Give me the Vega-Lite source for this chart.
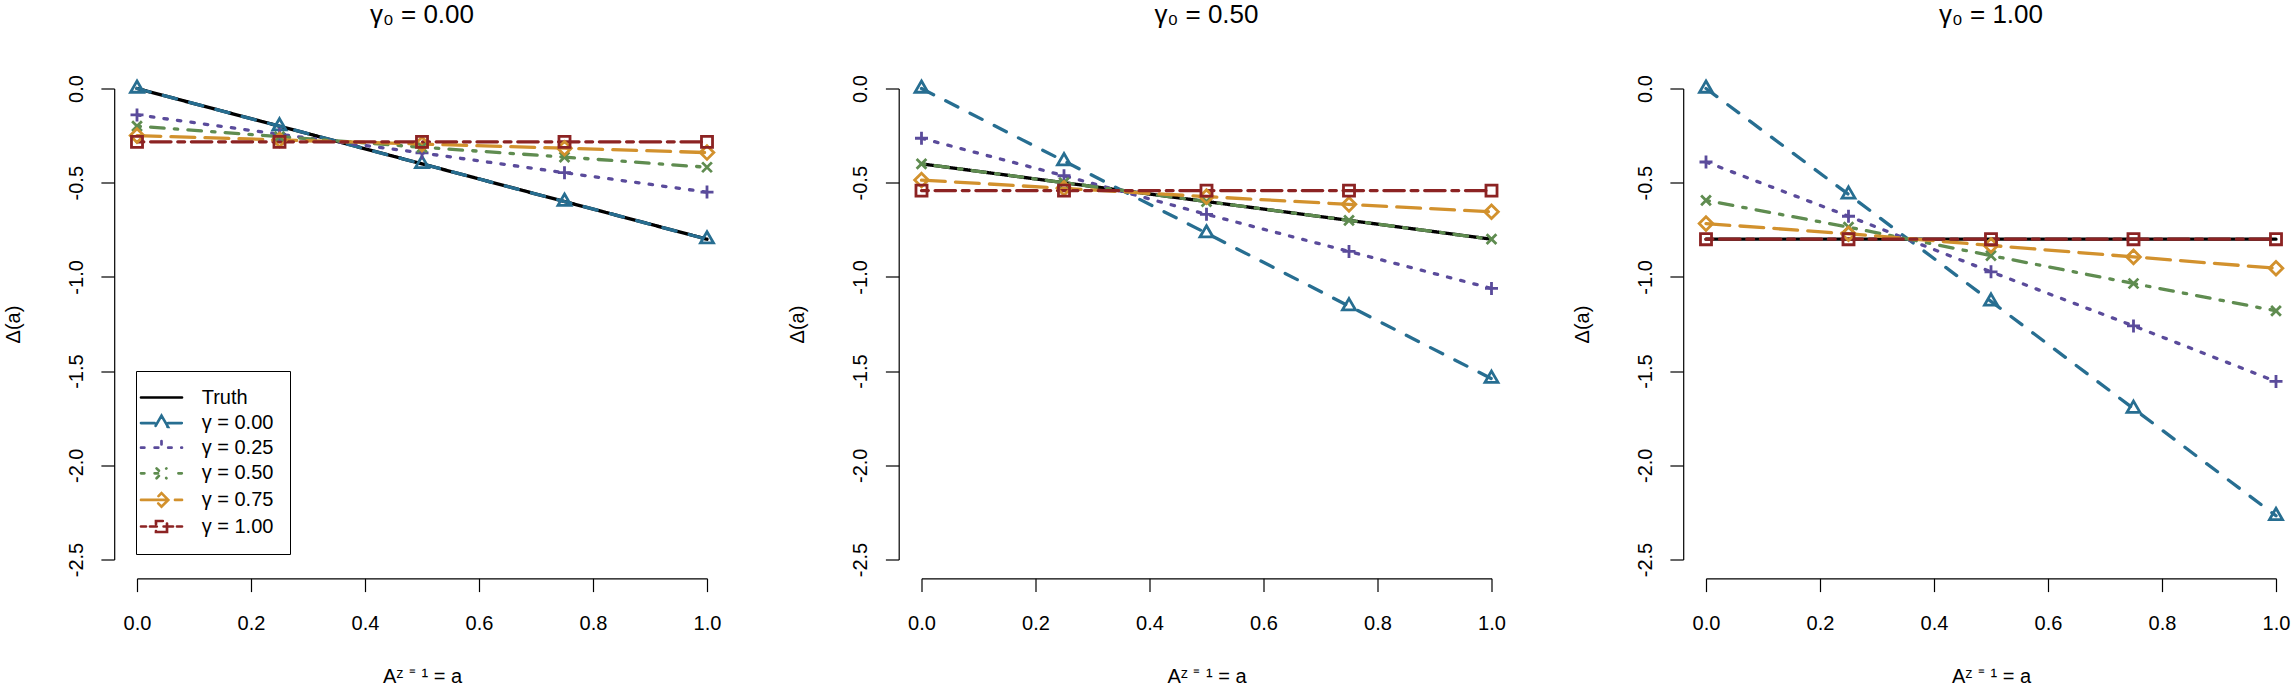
{
  "$schema": "https://vega.github.io/schema/vega-lite/v6.json",
  "autosize": "none",
  "padding": {"left": 137, "top": 88.5, "right": 2156, "bottom": 596.5},
  "spacing": 214.5,
  "bounds": "flush",
  "data": {"values": [
    {"g": "0.00", "s": "Truth", "a": 0, "d": 0},
    {"g": "0.00", "s": "Truth", "a": 0.25, "d": -0.2},
    {"g": "0.00", "s": "Truth", "a": 0.5, "d": -0.4},
    {"g": "0.00", "s": "Truth", "a": 0.75, "d": -0.6},
    {"g": "0.00", "s": "Truth", "a": 1, "d": -0.8},
    {"g": "0.00", "s": "γ = 0.00", "a": 0, "d": 0},
    {"g": "0.00", "s": "γ = 0.00", "a": 0.25, "d": -0.2},
    {"g": "0.00", "s": "γ = 0.00", "a": 0.5, "d": -0.4},
    {"g": "0.00", "s": "γ = 0.00", "a": 0.75, "d": -0.6},
    {"g": "0.00", "s": "γ = 0.00", "a": 1, "d": -0.8},
    {"g": "0.00", "s": "γ = 0.25", "a": 0, "d": -0.14},
    {"g": "0.00", "s": "γ = 0.25", "a": 0.25, "d": -0.243},
    {"g": "0.00", "s": "γ = 0.25", "a": 0.5, "d": -0.342},
    {"g": "0.00", "s": "γ = 0.25", "a": 0.75, "d": -0.447},
    {"g": "0.00", "s": "γ = 0.25", "a": 1, "d": -0.55},
    {"g": "0.00", "s": "γ = 0.50", "a": 0, "d": -0.2},
    {"g": "0.00", "s": "γ = 0.50", "a": 0.25, "d": -0.255},
    {"g": "0.00", "s": "γ = 0.50", "a": 0.5, "d": -0.312},
    {"g": "0.00", "s": "γ = 0.50", "a": 0.75, "d": -0.364},
    {"g": "0.00", "s": "γ = 0.50", "a": 1, "d": -0.418},
    {"g": "0.00", "s": "γ = 0.75", "a": 0, "d": -0.25},
    {"g": "0.00", "s": "γ = 0.75", "a": 0.25, "d": -0.273},
    {"g": "0.00", "s": "γ = 0.75", "a": 0.5, "d": -0.295},
    {"g": "0.00", "s": "γ = 0.75", "a": 0.75, "d": -0.317},
    {"g": "0.00", "s": "γ = 0.75", "a": 1, "d": -0.34},
    {"g": "0.00", "s": "γ = 1.00", "a": 0, "d": -0.283},
    {"g": "0.00", "s": "γ = 1.00", "a": 0.25, "d": -0.283},
    {"g": "0.00", "s": "γ = 1.00", "a": 0.5, "d": -0.283},
    {"g": "0.00", "s": "γ = 1.00", "a": 0.75, "d": -0.283},
    {"g": "0.00", "s": "γ = 1.00", "a": 1, "d": -0.283},
    {"g": "0.50", "s": "Truth", "a": 0, "d": -0.4},
    {"g": "0.50", "s": "Truth", "a": 0.25, "d": -0.5},
    {"g": "0.50", "s": "Truth", "a": 0.5, "d": -0.6},
    {"g": "0.50", "s": "Truth", "a": 0.75, "d": -0.7},
    {"g": "0.50", "s": "Truth", "a": 1, "d": -0.8},
    {"g": "0.50", "s": "γ = 0.00", "a": 0, "d": 0},
    {"g": "0.50", "s": "γ = 0.00", "a": 0.25, "d": -0.385},
    {"g": "0.50", "s": "γ = 0.00", "a": 0.5, "d": -0.768},
    {"g": "0.50", "s": "γ = 0.00", "a": 0.75, "d": -1.155},
    {"g": "0.50", "s": "γ = 0.00", "a": 1, "d": -1.54},
    {"g": "0.50", "s": "γ = 0.25", "a": 0, "d": -0.264},
    {"g": "0.50", "s": "γ = 0.25", "a": 0.25, "d": -0.463},
    {"g": "0.50", "s": "γ = 0.25", "a": 0.5, "d": -0.668},
    {"g": "0.50", "s": "γ = 0.25", "a": 0.75, "d": -0.865},
    {"g": "0.50", "s": "γ = 0.25", "a": 1, "d": -1.061},
    {"g": "0.50", "s": "γ = 0.50", "a": 0, "d": -0.4},
    {"g": "0.50", "s": "γ = 0.50", "a": 0.25, "d": -0.5},
    {"g": "0.50", "s": "γ = 0.50", "a": 0.5, "d": -0.6},
    {"g": "0.50", "s": "γ = 0.50", "a": 0.75, "d": -0.7},
    {"g": "0.50", "s": "γ = 0.50", "a": 1, "d": -0.8},
    {"g": "0.50", "s": "γ = 0.75", "a": 0, "d": -0.486},
    {"g": "0.50", "s": "γ = 0.75", "a": 0.25, "d": -0.53},
    {"g": "0.50", "s": "γ = 0.75", "a": 0.5, "d": -0.574},
    {"g": "0.50", "s": "γ = 0.75", "a": 0.75, "d": -0.615},
    {"g": "0.50", "s": "γ = 0.75", "a": 1, "d": -0.654},
    {"g": "0.50", "s": "γ = 1.00", "a": 0, "d": -0.542},
    {"g": "0.50", "s": "γ = 1.00", "a": 0.25, "d": -0.542},
    {"g": "0.50", "s": "γ = 1.00", "a": 0.5, "d": -0.542},
    {"g": "0.50", "s": "γ = 1.00", "a": 0.75, "d": -0.542},
    {"g": "0.50", "s": "γ = 1.00", "a": 1, "d": -0.542},
    {"g": "1.00", "s": "Truth", "a": 0, "d": -0.8},
    {"g": "1.00", "s": "Truth", "a": 0.25, "d": -0.8},
    {"g": "1.00", "s": "Truth", "a": 0.5, "d": -0.8},
    {"g": "1.00", "s": "Truth", "a": 0.75, "d": -0.8},
    {"g": "1.00", "s": "Truth", "a": 1, "d": -0.8},
    {"g": "1.00", "s": "γ = 0.00", "a": 0, "d": 0},
    {"g": "1.00", "s": "γ = 0.00", "a": 0.25, "d": -0.562},
    {"g": "1.00", "s": "γ = 0.00", "a": 0.5, "d": -1.13},
    {"g": "1.00", "s": "γ = 0.00", "a": 0.75, "d": -1.699},
    {"g": "1.00", "s": "γ = 0.00", "a": 1, "d": -2.268},
    {"g": "1.00", "s": "γ = 0.25", "a": 0, "d": -0.39},
    {"g": "1.00", "s": "γ = 0.25", "a": 0.25, "d": -0.678},
    {"g": "1.00", "s": "γ = 0.25", "a": 0.5, "d": -0.973},
    {"g": "1.00", "s": "γ = 0.25", "a": 0.75, "d": -1.26},
    {"g": "1.00", "s": "γ = 0.25", "a": 1, "d": -1.555},
    {"g": "1.00", "s": "γ = 0.50", "a": 0, "d": -0.594},
    {"g": "1.00", "s": "γ = 0.50", "a": 0.25, "d": -0.736},
    {"g": "1.00", "s": "γ = 0.50", "a": 0.5, "d": -0.887},
    {"g": "1.00", "s": "γ = 0.50", "a": 0.75, "d": -1.035},
    {"g": "1.00", "s": "γ = 0.50", "a": 1, "d": -1.18},
    {"g": "1.00", "s": "γ = 0.75", "a": 0, "d": -0.717},
    {"g": "1.00", "s": "γ = 0.75", "a": 0.25, "d": -0.771},
    {"g": "1.00", "s": "γ = 0.75", "a": 0.5, "d": -0.833},
    {"g": "1.00", "s": "γ = 0.75", "a": 0.75, "d": -0.894},
    {"g": "1.00", "s": "γ = 0.75", "a": 1, "d": -0.954},
    {"g": "1.00", "s": "γ = 1.00", "a": 0, "d": -0.8},
    {"g": "1.00", "s": "γ = 1.00", "a": 0.25, "d": -0.8},
    {"g": "1.00", "s": "γ = 1.00", "a": 0.5, "d": -0.8},
    {"g": "1.00", "s": "γ = 1.00", "a": 0.75, "d": -0.8},
    {"g": "1.00", "s": "γ = 1.00", "a": 1, "d": -0.8}
  ]},
  "hconcat": [
    {
      "title": {"text": "γ₀ = 0.00"},
      "width": 570, "height": 471,
      "transform": [{"filter": "datum.g === '0.00'"}],
      "encoding": {
        "x": {"field": "a", "type": "quantitative", "scale": {"domain": [0, 1], "nice": false, "zero": false},
          "axis": {"values": [0, 0.2, 0.4, 0.6, 0.8, 1], "labelExpr": "format(datum.value, '.1f')", "offset": 18.8, "labelPadding": 21.7, "title": "Aᶻ ⁼ ¹ = a", "titleX": 285, "titleY": 104.4, "titleBaseline": "alphabetic", "titleAnchor": "middle"}},
        "y": {"field": "d", "type": "quantitative", "scale": {"domain": [-2.5, 0], "nice": false, "zero": false},
          "axis": {"values": [0, -0.5, -1, -1.5, -2, -2.5], "labelExpr": "replace(format(datum.value, '.1f'), '−', '-')", "offset": 22.8, "labelAngle": -90, "labelAlign": "center", "labelBaseline": "bottom", "labelPadding": 14.5, "title": "Δ(a)", "titleX": -101, "titleY": 235.5, "titleAngle": -90, "titleBaseline": "middle", "titleAlign": "center"}}
      },
      "layer": [
        {
          "mark": {"type": "line", "strokeWidth": 3.3, "strokeCap": "round", "strokeJoin": "round"},
          "encoding": {
            "color": {"field": "s", "type": "nominal",
              "scale": {"domain": ["Truth", "γ = 0.00", "γ = 0.25", "γ = 0.50", "γ = 0.75", "γ = 1.00"], "range": ["#000000", "#276e91", "#5a4b9b", "#5f8c50", "#d2912d", "#8c2323"]},
              "legend": {"title": null, "orient": "none", "legendX": -1, "legendY": 282.5, "padding": 16.5, "strokeColor": "#000000", "fillColor": "#ffffff", "symbolSize": 272.25, "symbolStrokeWidth": 2.7, "symbolOffset": -1, "labelOffset": 30.2, "rowPadding": 2.6, "labelFontSize": 20, "labelColor": "#000000", "labelLimit": 400,
                "encode": {"symbols": {"update": {
                  "shape": {"signal": "['M-2.485,0H2.485', 'M-2.485,0H-0.836M0.812,0H2.461M0,-0.91L0.788,0.455L-0.788,0.455Z', 'M-2.485,0H-2.073M-0.836,0H-0.424M0.812,0H1.224M2.4,0H2.485M-0.8,0H0.8M0,-0.8V0.8', 'M-2.485,0H-2.073M-0.836,0H0.812M2.048,0H2.461M-0.6,-0.6L0.6,0.6M-0.6,0.6L0.6,-0.6', 'M-2.485,0H2.485M0,-0.82L0.82,0L0,0.82L-0.82,0Z', 'M-2.485,0H-1.879M-1.394,0H1.394M1.879,0H2.485M-0.667,-0.667H0.667V0.667H-0.667Z'][datum.index]"},
                  "fill": {"value": "transparent"}, "strokeDash": {"value": []}, "strokeCap": {"value": "round"}, "opacity": {"value": 1}}}}}},
            "strokeDash": {"field": "s", "type": "nominal",
              "scale": {"domain": ["Truth", "γ = 0.00", "γ = 0.25", "γ = 0.50", "γ = 0.75", "γ = 1.00"], "range": [[1, 0], [13.6, 13.6], [3.4, 10.2], [3.4, 10.2, 13.6, 10.2], [23.8, 10.2], [6.8, 6.8, 20.4, 6.8]]},
              "legend": null}
          }
        },
        {
          "transform": [{"filter": "datum.s !== 'Truth'"}],
          "mark": {"type": "point", "filled": false, "strokeWidth": 2.8, "size": 169, "opacity": 1},
          "encoding": {
            "color": {"field": "s", "type": "nominal", "legend": null},
            "shape": {"field": "s", "type": "nominal",
              "scale": {"domain": ["γ = 0.00", "γ = 0.25", "γ = 0.50", "γ = 0.75", "γ = 1.00"], "range": ["M0,-1.155L1,0.577L-1,0.577Z", "M-1,0H1M0,-1V1", "M-0.75,-0.75L0.75,0.75M-0.75,0.75L0.75,-0.75", "M0,-1.05L1.05,0L0,1.05L-1.05,0Z", "M-0.85,-0.85H0.85V0.85H-0.85Z"]},
              "legend": null}
          }
        }
      ]
    },
    {
      "title": {"text": "γ₀ = 0.50"},
      "width": 570, "height": 471,
      "transform": [{"filter": "datum.g === '0.50'"}],
      "encoding": {
        "x": {"field": "a", "type": "quantitative", "scale": {"domain": [0, 1], "nice": false, "zero": false},
          "axis": {"values": [0, 0.2, 0.4, 0.6, 0.8, 1], "labelExpr": "format(datum.value, '.1f')", "offset": 18.8, "labelPadding": 21.7, "title": "Aᶻ ⁼ ¹ = a", "titleX": 285, "titleY": 104.4, "titleBaseline": "alphabetic", "titleAnchor": "middle"}},
        "y": {"field": "d", "type": "quantitative", "scale": {"domain": [-2.5, 0], "nice": false, "zero": false},
          "axis": {"values": [0, -0.5, -1, -1.5, -2, -2.5], "labelExpr": "replace(format(datum.value, '.1f'), '−', '-')", "offset": 22.8, "labelAngle": -90, "labelAlign": "center", "labelBaseline": "bottom", "labelPadding": 14.5, "title": "Δ(a)", "titleX": -101, "titleY": 235.5, "titleAngle": -90, "titleBaseline": "middle", "titleAlign": "center"}}
      },
      "layer": [
        {
          "mark": {"type": "line", "strokeWidth": 3.3, "strokeCap": "round", "strokeJoin": "round"},
          "encoding": {
            "color": {"field": "s", "type": "nominal",
              "scale": {"domain": ["Truth", "γ = 0.00", "γ = 0.25", "γ = 0.50", "γ = 0.75", "γ = 1.00"], "range": ["#000000", "#276e91", "#5a4b9b", "#5f8c50", "#d2912d", "#8c2323"]},
              "legend": {"title": null, "orient": "none", "legendX": -1, "legendY": 282.5, "padding": 16.5, "strokeColor": "#000000", "fillColor": "#ffffff", "symbolSize": 272.25, "symbolStrokeWidth": 2.7, "symbolOffset": -1, "labelOffset": 30.2, "rowPadding": 2.6, "labelFontSize": 20, "labelColor": "#000000", "labelLimit": 400,
                "encode": {"symbols": {"update": {
                  "shape": {"signal": "['M-2.485,0H2.485', 'M-2.485,0H-0.836M0.812,0H2.461M0,-0.91L0.788,0.455L-0.788,0.455Z', 'M-2.485,0H-2.073M-0.836,0H-0.424M0.812,0H1.224M2.4,0H2.485M-0.8,0H0.8M0,-0.8V0.8', 'M-2.485,0H-2.073M-0.836,0H0.812M2.048,0H2.461M-0.6,-0.6L0.6,0.6M-0.6,0.6L0.6,-0.6', 'M-2.485,0H2.485M0,-0.82L0.82,0L0,0.82L-0.82,0Z', 'M-2.485,0H-1.879M-1.394,0H1.394M1.879,0H2.485M-0.667,-0.667H0.667V0.667H-0.667Z'][datum.index]"},
                  "fill": {"value": "transparent"}, "strokeDash": {"value": []}, "strokeCap": {"value": "round"}, "opacity": {"value": 1}}}}}},
            "strokeDash": {"field": "s", "type": "nominal",
              "scale": {"domain": ["Truth", "γ = 0.00", "γ = 0.25", "γ = 0.50", "γ = 0.75", "γ = 1.00"], "range": [[1, 0], [13.6, 13.6], [3.4, 10.2], [3.4, 10.2, 13.6, 10.2], [23.8, 10.2], [6.8, 6.8, 20.4, 6.8]]},
              "legend": null}
          }
        },
        {
          "transform": [{"filter": "datum.s !== 'Truth'"}],
          "mark": {"type": "point", "filled": false, "strokeWidth": 2.8, "size": 169, "opacity": 1},
          "encoding": {
            "color": {"field": "s", "type": "nominal", "legend": null},
            "shape": {"field": "s", "type": "nominal",
              "scale": {"domain": ["γ = 0.00", "γ = 0.25", "γ = 0.50", "γ = 0.75", "γ = 1.00"], "range": ["M0,-1.155L1,0.577L-1,0.577Z", "M-1,0H1M0,-1V1", "M-0.75,-0.75L0.75,0.75M-0.75,0.75L0.75,-0.75", "M0,-1.05L1.05,0L0,1.05L-1.05,0Z", "M-0.85,-0.85H0.85V0.85H-0.85Z"]},
              "legend": null}
          }
        }
      ]
    },
    {
      "title": {"text": "γ₀ = 1.00"},
      "width": 570, "height": 471,
      "transform": [{"filter": "datum.g === '1.00'"}],
      "encoding": {
        "x": {"field": "a", "type": "quantitative", "scale": {"domain": [0, 1], "nice": false, "zero": false},
          "axis": {"values": [0, 0.2, 0.4, 0.6, 0.8, 1], "labelExpr": "format(datum.value, '.1f')", "offset": 18.8, "labelPadding": 21.7, "title": "Aᶻ ⁼ ¹ = a", "titleX": 285, "titleY": 104.4, "titleBaseline": "alphabetic", "titleAnchor": "middle"}},
        "y": {"field": "d", "type": "quantitative", "scale": {"domain": [-2.5, 0], "nice": false, "zero": false},
          "axis": {"values": [0, -0.5, -1, -1.5, -2, -2.5], "labelExpr": "replace(format(datum.value, '.1f'), '−', '-')", "offset": 22.8, "labelAngle": -90, "labelAlign": "center", "labelBaseline": "bottom", "labelPadding": 14.5, "title": "Δ(a)", "titleX": -101, "titleY": 235.5, "titleAngle": -90, "titleBaseline": "middle", "titleAlign": "center"}}
      },
      "layer": [
        {
          "mark": {"type": "line", "strokeWidth": 3.3, "strokeCap": "round", "strokeJoin": "round"},
          "encoding": {
            "color": {"field": "s", "type": "nominal",
              "scale": {"domain": ["Truth", "γ = 0.00", "γ = 0.25", "γ = 0.50", "γ = 0.75", "γ = 1.00"], "range": ["#000000", "#276e91", "#5a4b9b", "#5f8c50", "#d2912d", "#8c2323"]},
              "legend": {"title": null, "orient": "none", "legendX": -1, "legendY": 282.5, "padding": 16.5, "strokeColor": "#000000", "fillColor": "#ffffff", "symbolSize": 272.25, "symbolStrokeWidth": 2.7, "symbolOffset": -1, "labelOffset": 30.2, "rowPadding": 2.6, "labelFontSize": 20, "labelColor": "#000000", "labelLimit": 400,
                "encode": {"symbols": {"update": {
                  "shape": {"signal": "['M-2.485,0H2.485', 'M-2.485,0H-0.836M0.812,0H2.461M0,-0.91L0.788,0.455L-0.788,0.455Z', 'M-2.485,0H-2.073M-0.836,0H-0.424M0.812,0H1.224M2.4,0H2.485M-0.8,0H0.8M0,-0.8V0.8', 'M-2.485,0H-2.073M-0.836,0H0.812M2.048,0H2.461M-0.6,-0.6L0.6,0.6M-0.6,0.6L0.6,-0.6', 'M-2.485,0H2.485M0,-0.82L0.82,0L0,0.82L-0.82,0Z', 'M-2.485,0H-1.879M-1.394,0H1.394M1.879,0H2.485M-0.667,-0.667H0.667V0.667H-0.667Z'][datum.index]"},
                  "fill": {"value": "transparent"}, "strokeDash": {"value": []}, "strokeCap": {"value": "round"}, "opacity": {"value": 1}}}}}},
            "strokeDash": {"field": "s", "type": "nominal",
              "scale": {"domain": ["Truth", "γ = 0.00", "γ = 0.25", "γ = 0.50", "γ = 0.75", "γ = 1.00"], "range": [[1, 0], [13.6, 13.6], [3.4, 10.2], [3.4, 10.2, 13.6, 10.2], [23.8, 10.2], [6.8, 6.8, 20.4, 6.8]]},
              "legend": null}
          }
        },
        {
          "transform": [{"filter": "datum.s !== 'Truth'"}],
          "mark": {"type": "point", "filled": false, "strokeWidth": 2.8, "size": 169, "opacity": 1},
          "encoding": {
            "color": {"field": "s", "type": "nominal", "legend": null},
            "shape": {"field": "s", "type": "nominal",
              "scale": {"domain": ["γ = 0.00", "γ = 0.25", "γ = 0.50", "γ = 0.75", "γ = 1.00"], "range": ["M0,-1.155L1,0.577L-1,0.577Z", "M-1,0H1M0,-1V1", "M-0.75,-0.75L0.75,0.75M-0.75,0.75L0.75,-0.75", "M0,-1.05L1.05,0L0,1.05L-1.05,0Z", "M-0.85,-0.85H0.85V0.85H-0.85Z"]},
              "legend": null}
          }
        }
      ]
    }
  ],
  "config": {
    "font": "Liberation Sans",
    "background": "#ffffff",
    "view": {"stroke": null},
    "axis": {"grid": false, "domainColor": "#000000", "tickColor": "#000000", "labelColor": "#000000", "titleColor": "#000000", "labelFontSize": 20, "titleFontSize": 20, "titleFontWeight": "normal", "domainWidth": 1.2, "tickWidth": 1.2, "tickSize": 13.3, "labelFlush": false, "labelOverlap": false, "labelFont": "Liberation Sans", "titleFont": "Liberation Sans"},
    "title": {"fontSize": 26, "fontWeight": "normal", "color": "#000000", "offset": 46.5, "font": "Liberation Sans", "anchor": "middle", "frame": "group"},
    "legend": {"labelFont": "Liberation Sans"}
  }
}
